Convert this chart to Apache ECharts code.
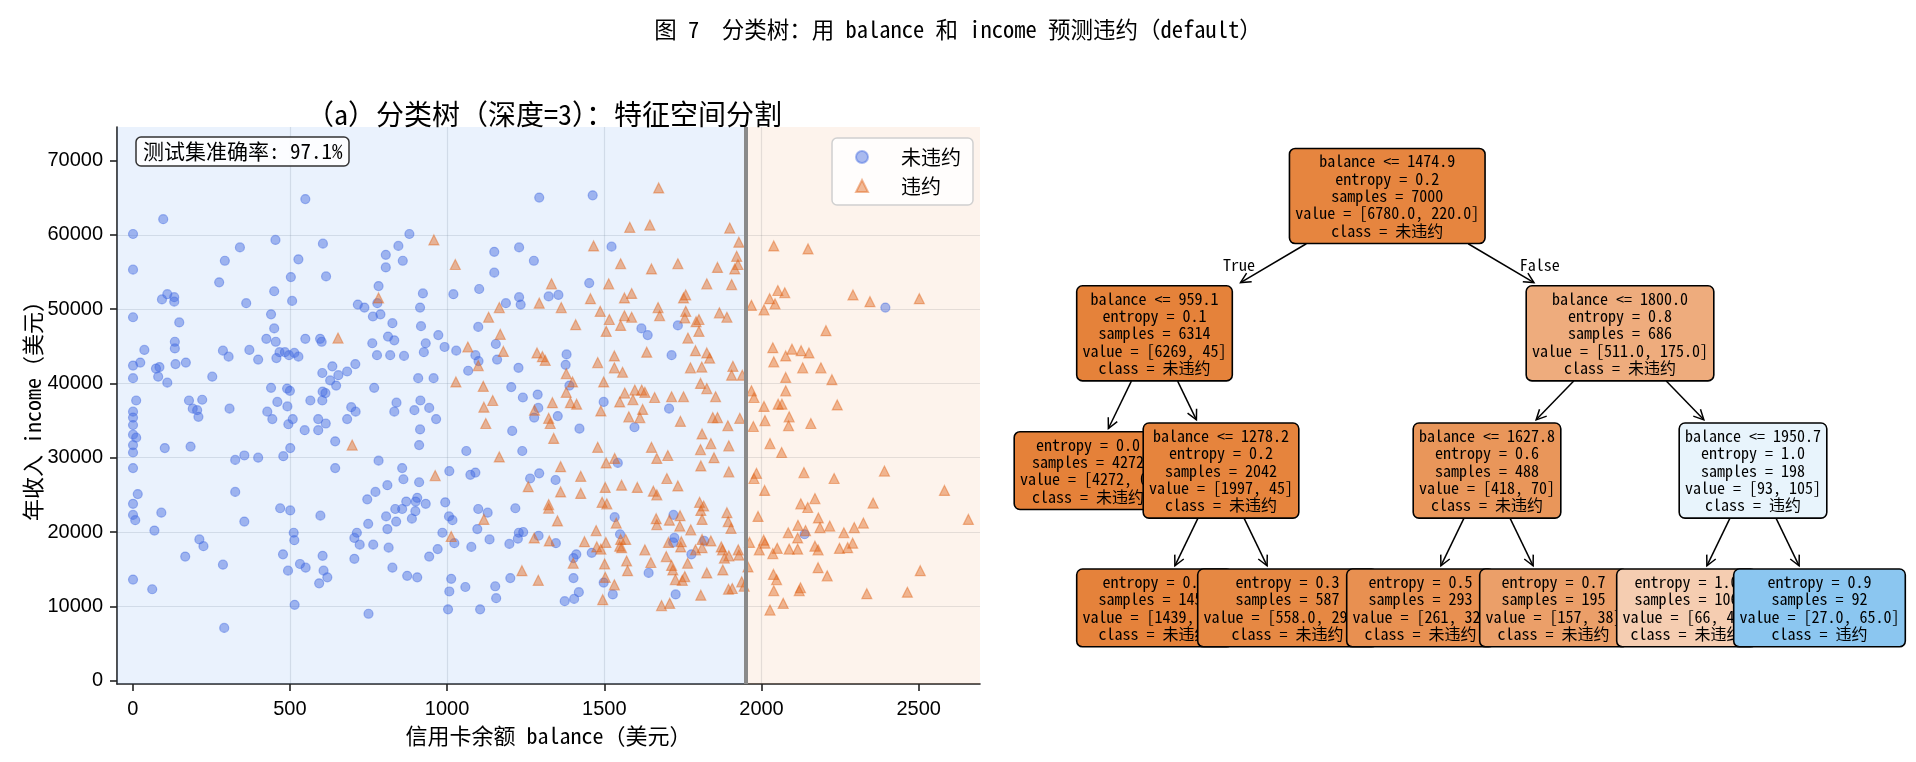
<!DOCTYPE html>
<html lang="zh">
<head>
    <meta charset="UTF-8">
    <title>分类树：用 balance 和 income 预测违约</title>
    <style>
        body { margin: 0; background: #fff; }
    </style>
</head>
<body>
<div id="main" style="width: 1916px;height:762px;"></div>
<script src="https://cdn.jsdelivr.net/npm/echarts/dist/echarts.min.js"></script>
<script>
    // 散点：[balance, income]
    var noDefaultPts = [
        [549,64800],[1293,65000],[97,62100],[1,60100],[880,60100],[454,59300],[605,58800],[341,58300],[845,58500],[805,57300],
        [1150,57700],[1229,58300],[293,56500],[527,56700],[859,56500],[1276,56500],[1,55300],[805,55600],[1150,54900],[503,54300],
        [615,54400],[275,53600],[450,52400],[782,53100],[1102,52700],[923,52100],[1020,52000],[110,52000],[132,51600],[93,51300],
        [132,51000],[507,51100],[361,50800],[716,50600],[737,50200],[778,50800],[1187,50800],[1229,51600],[1234,50600],[914,50200],
        [1,48900],[440,49300],[764,49000],[788,49300],[148,48200],[826,48100],[450,47400],[917,47700],[1099,47600],[972,46500],
        [134,45600],[425,46000],[455,45600],[549,46000],[596,46000],[601,45600],[762,45400],[812,46300],[832,45800],[932,45400],
        [134,44700],[37,44500],[287,44400],[305,43600],[371,44500],[467,44200],[484,44200],[497,43800],[514,44100],[527,43600],
        [777,43800],[819,43800],[863,43700],[926,44200],[992,44900],[1029,44400],[1090,43800],[1100,43000],[1155,45300],[1159,43200],
        [1227,42100],[1,42400],[24,42800],[74,42000],[85,42200],[136,42600],[169,42800],[399,43200],[457,43400],[635,42300],
        [708,42600],[81,40900],[110,40100],[1,40700],[253,40900],[603,41400],[628,40400],[654,41100],[682,41600],[647,39700],
        [440,39400],[491,39300],[500,39000],[604,38900],[613,38700],[768,39400],[908,40700],[957,40700],[1067,41700],[1204,39500],
        [1241,38100],[1288,38500],[11,37700],[179,37700],[221,37800],[460,37500],[565,37700],[603,37700],[839,37400],[915,37700],
        [191,36600],[205,36400],[209,35500],[308,36600],[428,36200],[444,35200],[492,36900],[495,34500],[509,35200],[590,35200],
        [614,34600],[590,33700],[547,33700],[682,35200],[695,36800],[709,36200],[832,36200],[896,36400],[914,33800],[943,36700],
        [965,35200],[1,36200],[1,35400],[1,34400],[1,33100],[11,32700],[1,31700],[1,30700],[1,28600],[16,25100],
        [1,23800],[1,22300],[8,21600],[102,31300],[184,31500],[1207,33600],[1277,35400],[1239,30900],[1061,30900],[644,32200],
        [911,31700],[1290,36700],[326,29700],[355,30300],[399,30000],[479,30200],[501,31300],[644,28600],[782,29600],[857,28600],
        [861,27100],[911,26700],[1007,28200],[1074,27700],[1090,28000],[1264,27200],[1293,27900],[326,25400],[772,25400],[810,26300],
        [746,24400],[870,24100],[900,24100],[905,24600],[932,23800],[835,23100],[857,23100],[899,22800],[888,21800],[806,22100],
        [838,21400],[994,24000],[1006,22100],[1017,21600],[1099,23100],[1129,22600],[1217,23200],[469,23200],[501,22900],[597,22200],
        [355,21400],[91,22600],[69,20200],[212,19000],[225,18100],[167,16700],[287,15600],[512,19900],[514,18900],[478,17000],
        [494,14800],[532,15700],[550,15200],[604,16800],[607,14800],[619,13900],[593,13100],[713,19900],[705,19200],[722,18300],
        [749,21100],[765,18300],[810,20400],[814,17900],[705,16400],[826,15200],[873,14100],[905,13900],[943,16700],[970,17700],
        [985,19900],[1023,18500],[1077,18000],[1096,20400],[1135,19000],[1198,18400],[1225,19100],[1228,19900],[1242,20000],[1291,19500],
        [1013,13700],[1007,12000],[1003,9600],[1058,12600],[1105,9600],[1153,12700],[1156,11100],[1201,13800],[515,10200],[750,9000],
        [291,7100],[1,13600],[62,12300],
        [1463,65300],[1523,58400],[1452,53500],[1323,51700],[1354,51900],[1618,47400],[1638,46500],[1734,47800],[1380,43900],[1377,42500],
        [1389,39700],[1714,43800],[1498,37500],[1706,36600],[2394,50200],
        [1352,35600],[1421,33900],[1596,34100],[1543,29300],[1345,27000],[1533,22000],[1550,19700],[1720,22300],[1723,19200],[1719,18600],
        [1818,18800],[1777,17000],[1346,18500],[1411,17000],[1402,16500],[1460,17200],[1402,13800],[1498,13200],[1419,11900],[1374,10700],
        [1404,11000],[1527,11600],[1641,14500],[1727,11600],[2137,19700]
    ];
    var defaultPts = [
        [958,59300],[1026,56000],[782,51500],[653,46100],[1132,48900],[1166,50200],[1169,46600],[1179,44300],[1066,44900],[1099,42400],
        [1028,40200],[1115,39600],[1145,37700],[1293,50800],[1286,44100],[1303,43600],
        [1117,36800],[1123,34600],[698,31700],[1166,30100],[962,27600],[1258,26100],[1278,36400],[1117,21700],[1013,19400],[1277,19200],
        [1238,14800],[1290,13500],
        [1673,66300],[1581,61000],[1645,61300],[1899,60900],[1466,58500],[1928,59000],[1921,57100],[1925,56000],[1915,55400],[1552,56100],
        [1650,55400],[1734,56100],[1860,55600],[1332,53400],[1514,53400],[1826,53400],[1905,53300],[1456,51400],[1564,51500],[1587,52100],
        [1752,51500],[1759,51900],[1363,50200],[1487,49700],[1671,50200],[1759,49700],[1409,47900],[1516,48600],[1564,49100],[1587,48900],
        [1676,49100],[1756,48800],[1792,48300],[1801,48600],[1866,49500],[1890,48900],[1506,47000],[1552,47800],[1766,46100],[1801,47000],
        [1635,44200],[1532,43700],[1479,42800],[1532,42100],[1558,41500],[1790,44400],[1826,44100],[1835,43400],[1774,42100],[1810,42200],
        [1909,42300],[1905,41100],[1939,41100],[1379,41300],[1399,40200],[1379,38800],[1498,40200],[1806,40000],[1826,39300],[1565,38700],
        [1597,39100],[1619,39100],[1629,38800],[1660,38100],[1714,38200],[1752,38200],[1854,38200],[1549,37500],[1591,37800],[1335,37400],
        [1412,37200],[1392,37400],[1312,43100],
        [2039,58500],[2148,58100],[2052,52500],[2074,52200],[2026,51400],[2043,50700],[2008,49900],[1968,50500],[2291,51900],[2345,51000],
        [2502,51400],[2205,47100],[2036,44800],[2097,44600],[2126,44400],[2151,44100],[2077,43700],[2039,42900],[2131,42100],[2189,42100],
        [2077,40800],[2224,40500],[2077,39000],[1968,39000],[1976,38100],[2053,37200],[2065,37200],[2241,37100],[2008,36900],
        [1323,35300],[1328,34600],[1339,32600],[1489,36300],[1578,35500],[1613,35400],[1622,36500],[1742,34900],[1845,35400],[1860,35400],
        [1893,34300],[1931,35300],[1811,33200],[1839,31900],[1896,31600],[1479,31400],[1650,31400],[1667,29900],[1702,30300],[1533,29900],
        [1506,29300],[1806,31100],[1849,30000],[1807,28900],[1896,28100],[1361,28800],[1425,27500],[1699,27200],[1734,26200],[1503,26000],
        [1555,26300],[1605,26000],[1656,25500],[1667,25000],[1361,25400],[1425,25200],[1323,23700],[1323,23200],[1493,24000],[1508,23800],
        [1351,21500],[1803,24000],[1816,23500],[1807,22900],[1811,21700],[1890,22600],[1894,21400],[1903,20500],[1665,21800],[1667,21000],
        [1707,21600],[1741,22200],[1740,20800],[1775,20300],[1538,21200],[1474,20200],[1325,18800],[1437,18700],[1476,18000],[1489,17700],
        [1505,18600],[1552,19000],[1568,19000],[1549,18100],[1555,17900],[1629,17600],[1704,18600],[1745,18700],[1743,18000],[1811,19000],
        [1839,18800],[1811,17900],[1790,17600],[1872,18000],[1876,17600],[1896,16800],[1882,16500],[1926,17600],[1928,16900],[1401,15800],
        [1501,15700],[1571,16100],[1574,14800],[1648,15900],[1697,16700],[1714,15500],[1718,14900],[1765,15800],[1826,14500],[1877,14900],
        [1503,13900],[1532,12900],[1726,13600],[1756,14000],[1748,13500],[1895,12300],[1907,12400],[1937,13300],[1945,12700],[1495,10900],
        [1682,10100],[1708,10400],[1807,11500],
        [1957,15300],[2088,35500],[2086,34300],[2157,34600],[2011,35000],[1974,34200],[2027,31900],[2064,30700],[1984,27900],[1976,27200],
        [2135,28000],[2231,27200],[2391,28200],[2010,25600],[2125,23800],[2147,23300],[2170,24500],[2355,23900],[2582,25600],[2658,21700],
        [1989,22100],[2116,20900],[2140,20200],[2181,21900],[2186,20600],[2217,20800],[2295,20600],[2324,21200],[2262,19900],[2085,19900],
        [2115,19200],[1962,18600],[2007,18900],[2011,18500],[1993,17600],[2050,17800],[2036,17100],[2088,17700],[2115,17700],[2170,18100],
        [2180,17600],[2248,17800],[2274,17900],[2290,18500],[2038,14300],[2048,13600],[2180,15200],[2209,14100],[2039,12100],[2124,12500],
        [2120,12100],[2069,10400],[2027,9500],[2335,11700],[2464,11900],[2505,14800]
    ];
    var xTicks = [0, 500, 1000, 1500, 2000, 2500];
    var yTicks = [0, 10000, 20000, 30000, 40000, 50000, 60000, 70000];
    var classNames = ['未违约', '违约'];

    // 树结构（先序编号，-1 表示叶子）
    var childLeft  = [1, 2, -1, 4, -1, -1, 7, 8, -1, -1, 11, -1, -1];
    var childRight = [6, 3, -1, 5, -1, -1, 10, 9, -1, -1, 12, -1, -1];
    var threshold  = [1474.9, 959.1, null, 1278.2, null, null, 1800.0, 1627.8, null, null, 1950.7, null, null];
    var countNo    = [6780, 6269, 4272, 1997, 1439, 558, 511, 418, 261, 157, 93, 66, 27];
    var countYes   = [220, 45, 0, 45, 16, 29, 175, 70, 32, 38, 105, 40, 65];
    var valueAsFloat = [1, 0, 0, 0, 0, 1, 1, 0, 0, 0, 0, 0, 1];

    var FONT = "'Noto Sans Mono CJK SC', 'Noto Sans CJK SC', 'DejaVu Sans Mono', sans-serif";
    var TICK_FONT = "'Liberation Sans', Arial, sans-serif";
    var classRgb = [[229, 129, 57], [57, 157, 229]];

    function entropy(i) {
        var n = countNo[i] + countYes[i], h = 0;
        [countNo[i], countYes[i]].forEach(function (c) {
            if (c > 0) { h -= c / n * Math.log2(c / n); }
        });
        return h;
    }
    function nodeClass(i) {
        return countYes[i] > countNo[i] ? 1 : 0;
    }
    function nodeColor(i) {
        var n = countNo[i] + countYes[i];
        var p = [countNo[i] / n, countYes[i] / n].sort(function (a, b) { return b - a; });
        var alpha = (p[0] - p[1]) / (1 - p[1]);
        var c = classRgb[nodeClass(i)].map(function (v) {
            return Math.round(alpha * v + (1 - alpha) * 255);
        });
        return 'rgb(' + c.join(',') + ')';
    }
    function nodeText(i) {
        var lines = [];
        if (childLeft[i] >= 0) { lines.push('balance <= ' + threshold[i].toFixed(1)); }
        lines.push('entropy = ' + entropy(i).toFixed(1));
        lines.push('samples = ' + (countNo[i] + countYes[i]));
        var fmt = function (v) { return valueAsFloat[i] ? v.toFixed(1) : String(v); };
        lines.push('value = [' + fmt(countNo[i]) + ', ' + fmt(countYes[i]) + ']');
        lines.push('class = ' + classNames[nodeClass(i)]);
        return lines;
    }

    // 树布局：叶子按顺序占位，内部节点居中，与内部节点相邻的叶子相距 1
    var slot = [], depth = [], parent = [-1];
    (function () {
        var next = 0;
        function walk(i, d) {
            depth[i] = d;
            if (childLeft[i] < 0) { slot[i] = next++; return; }
            parent[childLeft[i]] = i;
            parent[childRight[i]] = i;
            walk(childLeft[i], d + 1);
            walk(childRight[i], d + 1);
            slot[i] = (slot[childLeft[i]] + slot[childRight[i]]) / 2;
        }
        function fix(i) {
            var l = childLeft[i], r = childRight[i];
            if (l < 0) return;
            fix(l); fix(r);
            if (childLeft[l] < 0 && childLeft[r] >= 0) slot[l] = slot[r] - 1;
            if (childLeft[r] < 0 && childLeft[l] >= 0) slot[r] = slot[l] + 1;
            slot[i] = (slot[l] + slot[r]) / 2;
        }
        walk(0, 0);
        fix(0);
    })();

    // 叶子对应的 balance 区间 -> 决策区域
    var regions = [];
    (function () {
        function walk(i, lo, hi) {
            if (childLeft[i] < 0) { regions.push({lo: lo, hi: hi, cls: nodeClass(i)}); return; }
            walk(childLeft[i], lo, threshold[i]);
            walk(childRight[i], threshold[i], hi);
        }
        walk(0, -Infinity, Infinity);
        regions.sort(function (a, b) { return a.lo - b.lo; });
        var merged = [];
        regions.forEach(function (r) {
            var last = merged[merged.length - 1];
            if (last && last.cls === r.cls) { last.hi = r.hi; } else { merged.push({lo: r.lo, hi: r.hi, cls: r.cls}); }
        });
        regions = merged;
    })();

    var X_MIN = -50, X_MAX = 2695, Y_MIN = -450, Y_MAX = 74500;
    var regionColor = ['rgba(80,150,235,0.12)', 'rgba(230,125,40,0.09)'];
    var areaData = regions.map(function (r) {
        return [{xAxis: Math.max(r.lo, X_MIN), itemStyle: {color: regionColor[r.cls]}}, {xAxis: Math.min(r.hi, X_MAX)}];
    });
    var boundaryData = [];
    for (var k = 1; k < regions.length; k++) { boundaryData.push({xAxis: regions[k].lo}); }

    var nodeData = [], edgeData = [];
    for (var i = 0; i < childLeft.length; i++) {
        nodeData.push([slot[i], depth[i], i]);
        if (parent[i] >= 0) {
            var pi = parent[i];
            var lab = depth[pi] === 0 ? (childLeft[pi] === i ? 1 : 2) : 0;
            edgeData.push([slot[pi], depth[pi], slot[i], depth[i], nodeText(pi).length, nodeText(i).length, lab]);
        }
    }

    var LINE_H = 17.3, PAD_V = 3.5;
    function halfBox(nLines) { return (nLines * LINE_H + 2 * PAD_V) / 2; }

    function renderNode(params, api) {
        var i = api.value(2);
        var p = api.coord([api.value(0), api.value(1)]);
        return {
            type: 'text',
            x: p[0], y: p[1],
            style: {
                text: nodeText(i).join('\n'),
                fill: '#000',
                fontSize: 16,
                fontFamily: FONT,
                lineHeight: LINE_H,
                align: 'center',
                verticalAlign: 'middle',
                backgroundColor: nodeColor(i),
                borderColor: '#000',
                borderWidth: 1.6,
                borderRadius: 5,
                padding: [PAD_V, 5]
            }
        };
    }

    function renderEdge(params, api) {
        var a = api.coord([api.value(0), api.value(1)]);
        var b = api.coord([api.value(2), api.value(3)]);
        var dx = b[0] - a[0], dy = b[1] - a[1];
        var t0 = (halfBox(api.value(4)) + 1) / dy;
        var t1 = 1 - (halfBox(api.value(5)) + 4) / dy;
        var s = [a[0] + dx * t0, a[1] + dy * t0];
        var e = [a[0] + dx * t1, a[1] + dy * t1];
        var len = Math.sqrt(dx * dx + dy * dy);
        var ux = dx / len, uy = dy / len;
        var h1 = [e[0] - ux * 10 - uy * 5, e[1] - uy * 10 + ux * 5];
        var h2 = [e[0] - ux * 10 + uy * 5, e[1] - uy * 10 - ux * 5];
        var children = [
            {type: 'line', shape: {x1: s[0], y1: s[1], x2: e[0], y2: e[1]}, style: {stroke: '#000', lineWidth: 1.5}},
            {type: 'polyline', shape: {points: [h1, e, h2]}, style: {stroke: '#000', fill: null, lineWidth: 1.5}}
        ];
        var lab = api.value(6);
        if (lab) {
            children.push({
                type: 'text',
                x: (a[0] + b[0]) / 2, y: (a[1] + b[1]) / 2,
                style: {
                    text: lab === 1 ? 'True  ' : '  False',
                    fill: '#000', fontSize: 16, fontFamily: FONT,
                    align: lab === 1 ? 'right' : 'left', verticalAlign: 'middle'
                }
            });
        }
        return {type: 'group', children: children};
    }

    var axisColor = '#222';
    var plainNum = function (v) { return String(v); };
    var app = echarts.init(document.getElementById('main'));
    option = {
        animation: false,
        textStyle: {fontFamily: FONT},
        title: [
            {
                text: '图 7  分类树：用 balance 和 income 预测违约（default）',
                left: 'center', top: 13,
                textStyle: {fontSize: 22.5, fontWeight: 'normal', color: '#000', fontFamily: FONT}
            },
            {
                text: '（a）分类树（深度=3）：特征空间分割',
                left: 539, top: 95, textAlign: 'center',
                textStyle: {fontSize: 28, fontWeight: 'normal', color: '#000', fontFamily: FONT}
            },
            {
                text: '测试集准确率: 97.1%',
                left: 136, top: 137,
                padding: [4, 7],
                backgroundColor: 'rgba(255,255,255,0.85)',
                borderColor: '#333', borderWidth: 1.5, borderRadius: 5,
                textStyle: {fontSize: 21, fontWeight: 'normal', color: '#000', fontFamily: FONT}
            }
        ],
        legend: {
            data: classNames,
            orient: 'vertical',
            left: 832, top: 138,
            padding: [7, 12, 7, 23],
            itemGap: 5,
            itemWidth: 12, itemHeight: 12,
            backgroundColor: 'rgba(255,255,255,0.85)',
            borderColor: '#d0d0d0', borderWidth: 1.5, borderRadius: 5,
            textStyle: {fontSize: 20, color: '#000', padding: [0, 0, 0, 28], lineHeight: 24, fontFamily: FONT}
        },
        grid: [
            {left: 117, top: 127, width: 863, height: 557},
            {left: 1000, top: 140, width: 916, height: 530}
        ],
        xAxis: [
            {
                type: 'value', gridIndex: 0,
                min: X_MIN, max: X_MAX, minInterval: 500, maxInterval: 500,
                name: '信用卡余额 balance（美元）', nameLocation: 'middle', nameGap: 41,
                nameTextStyle: {fontSize: 22, color: '#000', fontFamily: FONT},
                axisLine: {onZero: false, lineStyle: {color: axisColor, width: 1.6}},
                axisTick: {length: 7, customValues: xTicks, lineStyle: {color: axisColor, width: 1.6}},
                axisLabel: {customValues: xTicks, formatter: plainNum, fontSize: 20, color: '#000', margin: 15, fontFamily: TICK_FONT},
                splitLine: {show: true, showMinLine: false, showMaxLine: false, lineStyle: {color: 'rgba(100,110,120,0.18)', width: 1.2}}
            },
            {type: 'value', gridIndex: 1, min: -0.1617, max: 6.7256, show: false}
        ],
        yAxis: [
            {
                type: 'value', gridIndex: 0,
                min: Y_MIN, max: Y_MAX, minInterval: 10000, maxInterval: 10000,
                name: '年收入 income（美元）', nameLocation: 'middle', nameGap: 72,
                nameTextStyle: {fontSize: 22, color: '#000', fontFamily: FONT},
                axisLine: {onZero: false, lineStyle: {color: axisColor, width: 1.6}},
                axisTick: {length: 7, customValues: yTicks, lineStyle: {color: axisColor, width: 1.6}},
                axisLabel: {customValues: yTicks, formatter: plainNum, fontSize: 20, color: '#000', margin: 14, fontFamily: TICK_FONT},
                splitLine: {show: true, showMinLine: false, showMaxLine: false, lineStyle: {color: 'rgba(100,110,120,0.18)', width: 1.2}}
            },
            {type: 'value', gridIndex: 1, min: -0.4079, max: 3.4523, inverse: true, show: false}
        ],
        series: [
            {
                // 决策区域背景与分割线
                type: 'scatter', name: 'regions', xAxisIndex: 0, yAxisIndex: 0, data: [], z: 1,
                markArea: {silent: true, data: areaData},
                markLine: {
                    silent: true, symbol: 'none', label: {show: false},
                    lineStyle: {color: '#8a8a8a', width: 4, type: 'solid'},
                    data: boundaryData
                }
            },
            {
                name: classNames[0], type: 'scatter', xAxisIndex: 0, yAxisIndex: 0,
                symbol: 'circle', symbolSize: 9, z: 3,
                itemStyle: {color: '#4169e1', opacity: 0.45, borderColor: '#4169e1', borderWidth: 1.2},
                data: noDefaultPts
            },
            {
                name: classNames[1], type: 'scatter', xAxisIndex: 0, yAxisIndex: 0,
                symbol: 'triangle', symbolSize: 10, z: 3,
                itemStyle: {color: '#e0661c', opacity: 0.45, borderColor: '#e0661c', borderWidth: 1.2},
                data: defaultPts
            },
            {
                type: 'custom', name: 'edges', xAxisIndex: 1, yAxisIndex: 1, z: 2,
                renderItem: renderEdge, data: edgeData, silent: true
            },
            {
                type: 'custom', name: 'nodes', xAxisIndex: 1, yAxisIndex: 1, z: 3,
                renderItem: renderNode, data: nodeData, silent: true
            }
        ]
    };
    app.setOption(option);
</script>
</body>
</html>
